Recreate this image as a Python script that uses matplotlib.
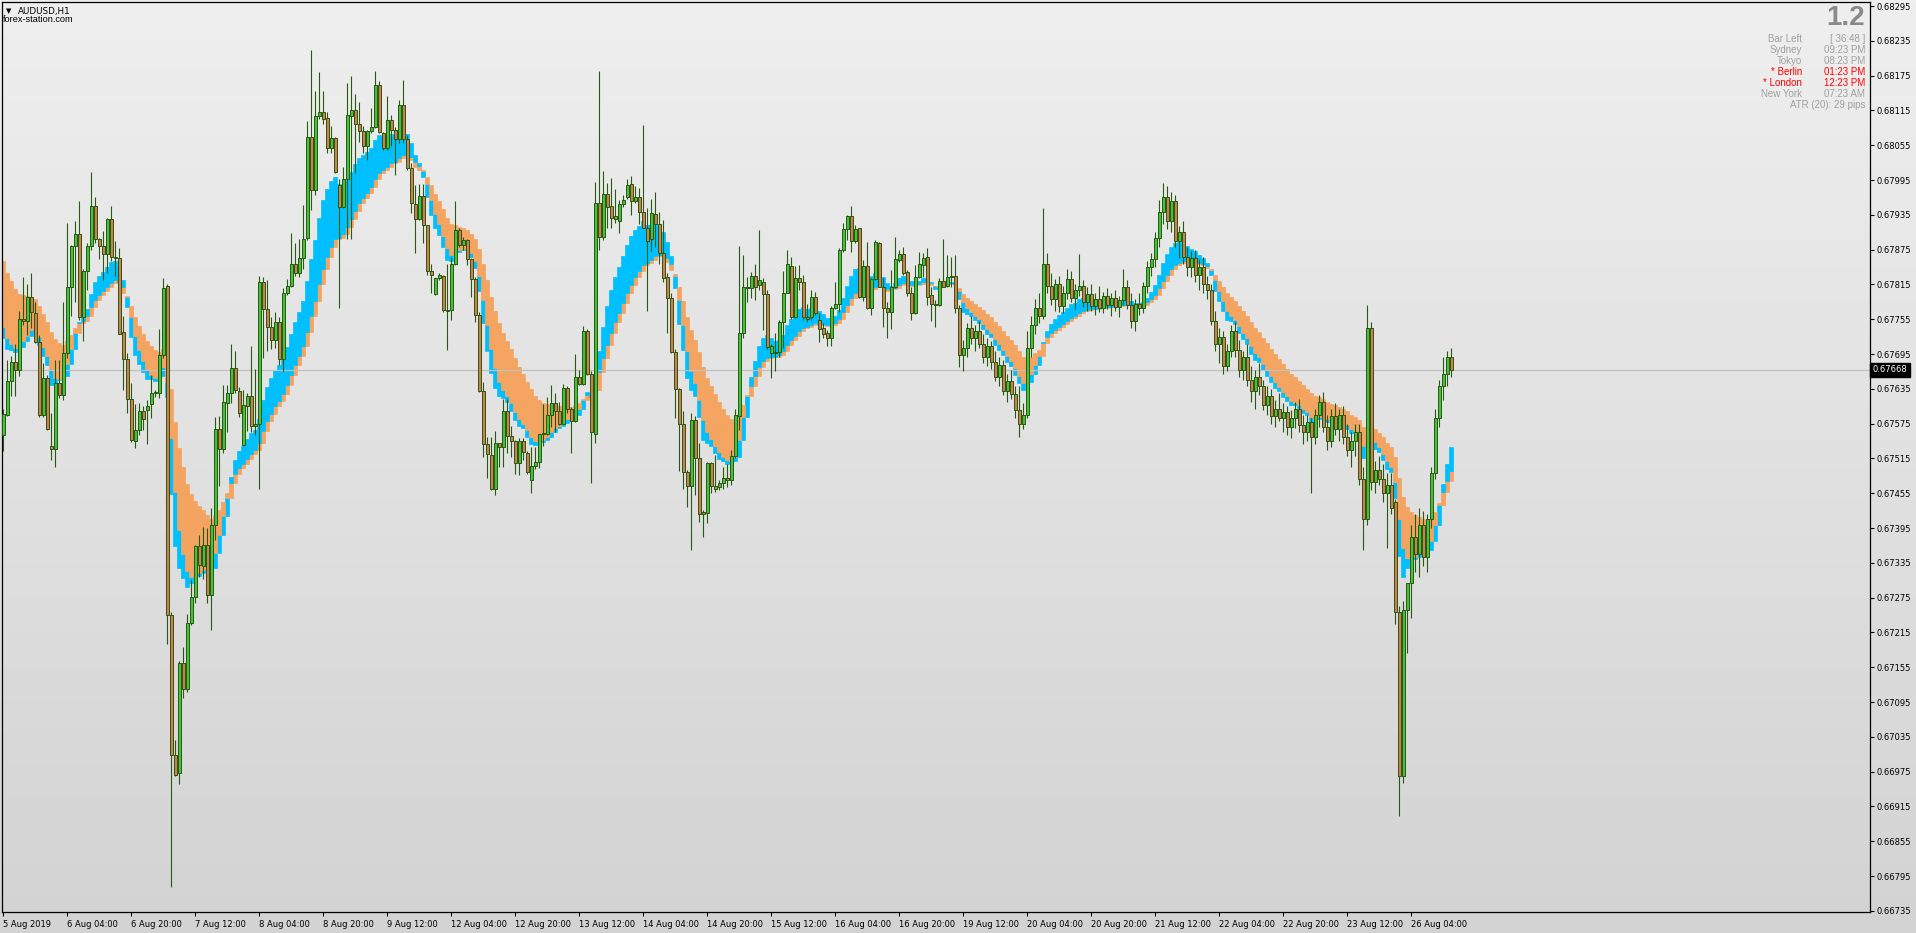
import numpy as np
import matplotlib
matplotlib.use("Agg")
import matplotlib.pyplot as plt
from matplotlib.colors import LinearSegmentedColormap

# AUDUSD H1 candles, prices in points (1 point = 0.00001)
opens = [67556, 67590, 67649, 67682, 67668, 67756, 67752, 67794, 67765, 67715,
         67590, 67654, 67536, 67532, 67645, 67625, 67696, 67810, 67881, 67902,
         67759, 67838, 67881, 67950, 67893, 67881, 67868, 67928, 67863, 67860,
         67733, 67686, 67617, 67545, 67564, 67597, 67599, 67609, 67627, 67627,
         67693, 67812, 67245, 67003, 66972, 67163, 67117, 67231, 67277, 67364,
         67330, 67366, 67279, 67401, 67566, 67532, 67611, 67627, 67671, 67631,
         67538, 67606, 67623, 67571, 67574, 67819, 67772, 67741, 67719, 67751,
         67687, 67800, 67813, 67850, 67834, 67860, 67895, 68069, 67977, 68106,
         68112, 68102, 68050, 68067, 67986, 67948, 67996, 68106, 68116, 68091,
         68080, 68054, 68080, 68086, 68159, 68076, 68051, 68098, 68082, 68065,
         68124, 68065, 68015, 67953, 67927, 67967, 67917, 67838, 67798, 67826,
         67830, 67771, 67771, 67850, 67909, 67883, 67891, 67858, 67825, 67762,
         67632, 67540, 67521, 67462, 67541, 67534, 67596, 67554, 67545, 67507,
         67545, 67524, 67478, 67502, 67509, 67557, 67558, 67590, 67610, 67596,
         67575, 67636, 67601, 67580, 67655, 67644, 67735, 67660, 67558, 67956,
         67897, 67971, 67950, 67933, 67925, 67954, 67966, 67989, 67958, 67966,
         67940, 67912, 67893, 67936, 67920, 67870, 67827, 67791, 67699, 67634,
         67574, 67492, 67468, 67581, 67515, 67423, 67421, 67507, 67468, 67465,
         67473, 67482, 67478, 67520, 67588, 67731, 67811, 67808, 67830, 67814,
         67820, 67798, 67696, 67697, 67698, 67751, 67801, 67847, 67759, 67826,
         67820, 67758, 67758, 67793, 67754, 67740, 67732, 67722, 67774, 67782,
         67874, 67910, 67933, 67890, 67912, 67794, 67847, 67774, 67824, 67886,
         67811, 67774, 67768, 67811, 67857, 67867, 67837, 67801, 67765, 67827,
         67849, 67862, 67797, 67781, 67780, 67821, 67812, 67828, 67829, 67775,
         67693, 67705, 67740, 67722, 67735, 67712, 67690, 67708, 67682, 67655,
         67676, 67632, 67648, 67626, 67598, 67575, 67590, 67705, 67745, 67775,
         67760, 67850, 67812, 67790, 67815, 67778, 67800, 67825, 67792, 67805,
         67812, 67785, 67798, 67778, 67790, 67775, 67795, 67780, 67792, 67776,
         67788, 67810, 67780, 67752, 67782, 67775, 67812, 67845, 67858, 67895,
         67940, 67965, 67925, 67958, 67890, 67905, 67862, 67845, 67860, 67832,
         67845, 67815, 67805, 67752, 67712, 67725, 67675, 67700, 67735, 67702,
         67668, 67690, 67650, 67632, 67655, 67640, 67608, 67622, 67588, 67600,
         67585, 67595, 67570, 67585, 67600, 67572, 67560, 67578, 67552, 67590,
         67612, 67570, 67545, 67588, 67565, 67590, 67552, 67530, 67545, 67560,
         67480, 67410, 67740, 67475, 67495, 67480, 67455, 67470, 67440, 67250,
         66968, 67253, 67300, 67380, 67350, 67400, 67345, 67410, 67490, 67585,
         67640, 67660, 67690]
highs = [67600, 67684, 67692, 67712, 67769, 67828, 67816, 67834, 67785, 67727,
         67680, 67659, 67594, 67684, 67684, 67785, 67921, 67883, 67924, 67959,
         67842, 67887, 68009, 67966, 67895, 67907, 67930, 67951, 67890, 67877,
         67761, 67696, 67645, 67609, 67611, 67605, 67615, 67659, 67633, 67738,
         67826, 67816, 67251, 67029, 67166, 67190, 67247, 67305, 67366, 67383,
         67397, 67395, 67430, 67586, 67588, 67642, 67641, 67712, 67700, 67639,
         67633, 67627, 67708, 67669, 67830, 67828, 67823, 67759, 67768, 67759,
         67808, 67824, 67904, 67886, 67894, 67952, 68097, 68219, 68148, 68181,
         68148, 68113, 68088, 68070, 67996, 68018, 68162, 68174, 68144, 68130,
         68088, 68082, 68119, 68183, 68166, 68078, 68139, 68107, 68086, 68133,
         68167, 68073, 68024, 67986, 67989, 67989, 67917, 67851, 67826, 67835,
         67831, 67851, 67862, 67959, 67912, 67897, 67894, 67860, 67827, 67768,
         67646, 67552, 67552, 67563, 67542, 67617, 67617, 67571, 67547, 67551,
         67550, 67527, 67535, 67535, 67558, 67609, 67621, 67642, 67627, 67613,
         67644, 67640, 67604, 67695, 67667, 67743, 67739, 67665, 67992, 68183,
         68010, 67990, 67999, 67979, 67960, 67969, 67996, 68002, 67985, 67981,
         68090, 67946, 67962, 67974, 67940, 67926, 67835, 67800, 67704, 67636,
         67596, 67495, 67593, 67588, 67541, 67426, 67509, 67509, 67521, 67477,
         67500, 67505, 67530, 67601, 67881, 67866, 67827, 67837, 67851, 67908,
         67826, 67805, 67713, 67731, 67754, 67838, 67874, 67863, 67847, 67848,
         67831, 67782, 67805, 67802, 67765, 67749, 67736, 67777, 67820, 67877,
         67921, 67935, 67950, 67917, 67913, 67857, 67889, 67826, 67892, 67889,
         67826, 67785, 67840, 67897, 67874, 67880, 67840, 67811, 67848, 67871,
         67869, 67877, 67811, 67788, 67826, 67893, 67866, 67863, 67866, 67780,
         67720, 67748, 67760, 67745, 67752, 67730, 67722, 67718, 67700, 67690,
         67684, 67660, 67668, 67640, 67640, 67610, 67735, 67760, 67790, 67800,
         67947, 67870, 67835, 67825, 67830, 67812, 67842, 67838, 67815, 67868,
         67822, 67810, 67815, 67800, 67812, 67802, 67808, 67800, 67805, 67795,
         67842, 67822, 67800, 67790, 67800, 67820, 67855, 67870, 67905, 67960,
         67990, 67985, 67975, 67970, 67915, 67925, 67880, 67872, 67875, 67858,
         67862, 67830, 67815, 67770, 67740, 67735, 67712, 67745, 67750, 67720,
         67700, 67712, 67675, 67668, 67680, 67650, 67640, 67635, 67615, 67628,
         67610, 67605, 67598, 67612, 67618, 67590, 67590, 67585, 67600, 67625,
         67630, 67590, 67600, 67610, 67600, 67605, 67575, 67560, 67575, 67575,
         67500, 67779, 67750, 67510, 67520, 67505, 67490, 67490, 67445, 67260,
         67270, 67300, 67400, 67420, 67430, 67425, 67420, 67500, 67600, 67650,
         67690, 67700, 67705]
lows = [67527, 67589, 67623, 67623, 67658, 67745, 67727, 67740, 67714, 67586,
        67586, 67564, 67513, 67501, 67619, 67616, 67688, 67761, 67785, 67753,
        67718, 67806, 67875, 67887, 67859, 67822, 67834, 67855, 67830, 67729,
        67633, 67593, 67543, 67533, 67555, 67564, 67540, 67585, 67621, 67619,
        67688, 67195, 66777, 66968, 66954, 67102, 67112, 67228, 67265, 67310,
        67307, 67266, 67220, 67375, 67468, 67525, 67560, 67611, 67627, 67587,
        67536, 67563, 67561, 67555, 67463, 67688, 67701, 67703, 67705, 67676,
        67666, 67797, 67811, 67830, 67828, 67841, 67892, 67944, 67969, 68100,
        68091, 68041, 68041, 68007, 67775, 67946, 67894, 67893, 68007, 68061,
        68041, 68030, 68076, 68084, 68076, 68047, 68047, 68053, 68004, 68058,
        68058, 68012, 67938, 67869, 67926, 67887, 67831, 67801, 67797, 67822,
        67768, 67702, 67754, 67848, 67880, 67874, 67848, 67794, 67751, 67630,
        67517, 67481, 67460, 67452, 67501, 67500, 67524, 67518, 67489, 67486,
        67513, 67489, 67455, 67496, 67498, 67537, 67556, 67570, 67561, 67573,
        67574, 67593, 67524, 67577, 67642, 67642, 67659, 67473, 67542, 67874,
        67892, 67912, 67913, 67921, 67904, 67949, 67963, 67935, 67955, 67920,
        67912, 67770, 67873, 67880, 67851, 67820, 67731, 67696, 67584, 67494,
        67463, 67432, 67358, 67452, 67406, 67379, 67403, 67455, 67458, 67460,
        67462, 67465, 67470, 67515, 67564, 67722, 67785, 67791, 67789, 67805,
        67736, 67703, 67653, 67665, 67690, 67705, 67800, 67755, 67757, 67805,
        67754, 67751, 67754, 67762, 67716, 67722, 67709, 67708, 67773, 67768,
        67871, 67892, 67871, 67886, 67791, 67786, 67773, 67762, 67822, 67810,
        67742, 67722, 67738, 67808, 67854, 67831, 67795, 67754, 67764, 67826,
        67828, 67780, 67752, 67741, 67777, 67810, 67811, 67811, 67765, 67673,
        67665, 67690, 67712, 67700, 67705, 67680, 67675, 67670, 67648, 67640,
        67625, 67612, 67618, 67585, 67552, 67565, 67585, 67690, 67730, 67748,
        67755, 67800, 67780, 67770, 67768, 67765, 67790, 67785, 67772, 67795,
        67776, 67770, 67770, 67762, 67768, 67765, 67772, 67760, 67770, 67758,
        67780, 67772, 67740, 67735, 67762, 67765, 67800, 67830, 67845, 67880,
        67920, 67910, 67905, 67880, 67860, 67850, 67830, 67828, 67820, 67805,
        67800, 67790, 67745, 67700, 67680, 67660, 67665, 67690, 67690, 67655,
        67650, 67640, 67612, 67600, 67625, 67598, 67590, 67575, 67570, 67580,
        67560, 67555, 67550, 67568, 67560, 67540, 67545, 67455, 67540, 67570,
        67560, 67530, 67535, 67555, 67545, 67540, 67520, 67500, 67520, 67470,
        67358, 67400, 67460, 67455, 67470, 67440, 67360, 67420, 67230, 66899,
        66955, 67180, 67240, 67320, 67310, 67330, 67320, 67395, 67480, 67570,
        67615, 67640, 67655]
closes = [67592, 67649, 67682, 67667, 67756, 67752, 67794, 67767, 67715, 67590,
          67654, 67566, 67532, 67645, 67625, 67696, 67810, 67881, 67902, 67759,
          67838, 67881, 67950, 67893, 67881, 67868, 67928, 67863, 67860, 67730,
          67686, 67617, 67547, 67564, 67597, 67583, 67605, 67628, 67629, 67693,
          67809, 67245, 67003, 66970, 67163, 67117, 67231, 67277, 67364, 67331,
          67366, 67279, 67401, 67566, 67532, 67612, 67627, 67671, 67633, 67594,
          67607, 67623, 67571, 67574, 67819, 67772, 67741, 67719, 67751, 67686,
          67800, 67813, 67850, 67834, 67860, 67894, 68069, 67977, 68106, 68112,
          68100, 68050, 68067, 68009, 67948, 67996, 68107, 68116, 68091, 68080,
          68054, 68080, 68086, 68159, 68077, 68051, 68098, 68082, 68065, 68124,
          68065, 68015, 67955, 67927, 67967, 67917, 67838, 67831, 67826, 67831,
          67771, 67769, 67850, 67909, 67883, 67891, 67858, 67824, 67763, 67632,
          67540, 67522, 67462, 67541, 67534, 67596, 67554, 67545, 67508, 67545,
          67526, 67491, 67502, 67509, 67557, 67558, 67590, 67610, 67596, 67575,
          67636, 67601, 67580, 67655, 67644, 67735, 67660, 67560, 67956, 67897,
          67971, 67949, 67930, 67927, 67954, 67960, 67986, 67958, 67966, 67940,
          67913, 67890, 67938, 67920, 67870, 67826, 67791, 67699, 67634, 67574,
          67492, 67468, 67581, 67515, 67420, 67419, 67507, 67468, 67463, 67473,
          67482, 67478, 67520, 67590, 67731, 67811, 67808, 67830, 67811, 67823,
          67798, 67707, 67709, 67699, 67751, 67801, 67850, 67759, 67826, 67820,
          67758, 67756, 67793, 67766, 67738, 67729, 67722, 67774, 67782, 67874,
          67910, 67933, 67890, 67910, 67793, 67847, 67774, 67824, 67888, 67811,
          67774, 67768, 67811, 67858, 67867, 67835, 67801, 67766, 67827, 67850,
          67861, 67794, 67781, 67779, 67821, 67811, 67828, 67829, 67775, 67693,
          67705, 67740, 67722, 67735, 67712, 67690, 67708, 67682, 67655, 67676,
          67632, 67648, 67626, 67598, 67575, 67590, 67705, 67745, 67775, 67760,
          67850, 67812, 67790, 67815, 67778, 67800, 67825, 67792, 67805, 67812,
          67785, 67798, 67778, 67790, 67775, 67795, 67780, 67792, 67776, 67788,
          67810, 67780, 67752, 67782, 67775, 67812, 67845, 67858, 67895, 67940,
          67965, 67925, 67958, 67890, 67905, 67862, 67845, 67860, 67832, 67845,
          67815, 67805, 67752, 67712, 67725, 67675, 67700, 67735, 67702, 67668,
          67690, 67650, 67632, 67655, 67640, 67608, 67622, 67588, 67600, 67585,
          67595, 67570, 67585, 67600, 67572, 67560, 67578, 67552, 67590, 67612,
          67570, 67545, 67588, 67565, 67590, 67552, 67530, 67545, 67560, 67480,
          67410, 67740, 67475, 67495, 67480, 67455, 67470, 67430, 67250, 66968,
          67253, 67300, 67380, 67350, 67400, 67345, 67410, 67490, 67585, 67640,
          67660, 67690, 67668]

# ribbon state (fast / slow smoothed price) read at the first bar
ribbon_seed = [67741, 67855]

time_labels = ["5 Aug 2019", "6 Aug 04:00", "6 Aug 20:00", "7 Aug 12:00", "8 Aug 04:00",
               "8 Aug 20:00", "9 Aug 12:00", "12 Aug 04:00", "12 Aug 20:00", "13 Aug 12:00",
               "14 Aug 04:00", "14 Aug 20:00", "15 Aug 12:00", "16 Aug 04:00", "16 Aug 20:00",
               "19 Aug 12:00", "20 Aug 04:00", "20 Aug 20:00", "21 Aug 12:00", "22 Aug 04:00",
               "22 Aug 20:00", "23 Aug 12:00", "26 Aug 04:00"]
price_ticks = [66735, 66795, 66855, 66915, 66975, 67035, 67095, 67155, 67215, 67275,
               67335, 67395, 67455, 67515, 67575, 67635, 67695, 67755, 67815, 67875,
               67935, 67995, 68055, 68115, 68175, 68235, 68295]
bid = 67668

info_names = ["Bar Left", "Sydney", "Tokyo", "* Berlin", "* London", "New York"]
info_values = ["[ 36:48 ]", "09:23 PM", "08:23 PM", "01:23 PM", "12:23 PM", "07:23 AM"]
info_open = [False, False, False, True, True, False]
atr_text = "ATR (20): 29 pips"
spread_text = "1.2"

# ---------------------------------------------------------------------------
P = 1e-5
o = np.array(opens) * P
h = np.array(highs) * P
l = np.array(lows) * P
c = np.array(closes) * P
n = len(c)
x = np.arange(n)

W, H = 1916, 933
fig = plt.figure(figsize=(W / 100, H / 100), dpi=100)

bg = fig.add_axes([0, 0, 1, 1], zorder=-5)
grad = LinearSegmentedColormap.from_list("mt4", ["#efefef", "#d3d3d3"])
bg.imshow(np.linspace(0, 1, 256).reshape(-1, 1), cmap=grad, aspect="auto",
          extent=[0, 1, 0, 1])
bg.axis("off")

left_px, right_px, top_px, bot_px = 2, 1870, 2, 912
ax = fig.add_axes([left_px / W, 1 - bot_px / H, (right_px - left_px) / W,
                   (bot_px - top_px) / H])
ax.patch.set_alpha(0)

ax.set_xlim(-0.33, 466.7)
ax.set_ylim(0.667331, 0.683019)

# ribbon: fast / slow smoothing of the bar mean price
mean_price = (o + h + l + c) / 4
fast = np.empty(n)
slow = np.empty(n)
fast[0], slow[0] = ribbon_seed[0] * P, ribbon_seed[1] * P
for i in range(1, n):
    fast[i] = fast[i - 1] + (mean_price[i] - fast[i - 1]) / 6
    slow[i] = slow[i - 1] + (mean_price[i] - slow[i - 1]) * 2 / 23
top = np.maximum(fast, slow)
bottom = np.minimum(fast, slow)
rising = fast > slow
strip = np.abs(np.diff(bottom, prepend=bottom[0]))
strip[0] = strip[1]

ORANGE, BLUE = "#f4a460", "#00bfff"
band_col = np.where(rising, BLUE, ORANGE)
strip_col = np.where(rising, ORANGE, BLUE)
ax.bar(x, strip, bottom=bottom - strip, width=1.0, color=strip_col,
       edgecolor=strip_col, linewidth=0.5, zorder=1)
ax.bar(x, top - bottom, bottom=bottom, width=1.0, color=band_col,
       edgecolor=band_col, linewidth=0.5, zorder=1.5)

# bid line
ax.axhline(bid * P, color="#c0c0c0", lw=0.9, zorder=2)

# candles
EDGE = "#255a10"
ax.vlines(x, l, h, color=EDGE, lw=0.8, zorder=3)
up = c >= o
body_lo = np.minimum(o, c)
body_h = np.maximum(np.abs(c - o), 1.2 * P)
ax.bar(x[up], body_h[up], bottom=body_lo[up], width=0.72, color="#44c23c",
       edgecolor=EDGE, linewidth=0.7, zorder=4)
ax.bar(x[~up], body_h[~up], bottom=body_lo[~up], width=0.72, color="#d97950",
       edgecolor=EDGE, linewidth=0.7, zorder=4)

# axes styling
for s in ax.spines.values():
    s.set_color("black")
    s.set_linewidth(0.9)
ax.yaxis.tick_right()
ax.set_yticks(np.array(price_ticks) * P)
ax.set_yticklabels([f"{v * P:.5f}" for v in price_ticks])
ax.set_xticks(np.arange(len(time_labels)) * 16)
ax.set_xticklabels(time_labels)
for t in ax.get_xticklabels():
    t.set_horizontalalignment("left")
ax.tick_params(axis="y", direction="out", length=3, width=0.8, pad=2,
               labelsize=6, colors="black")
ax.tick_params(axis="x", direction="out", length=3, width=0.8, pad=3,
               labelsize=6, colors="black")

# bid price tag
ax.text(1.0015, bid * P, f"{bid * P:.5f}", transform=ax.get_yaxis_transform(),
        ha="left", va="center", fontsize=6, color="white", zorder=6,
        bbox=dict(boxstyle="square,pad=0.3", fc="black", ec="black"))

# header
fig.text(6 / W, 1 - 11.5 / H, "\u25bc", fontsize=5, ha="left", va="center", color="black")
fig.text(18 / W, 1 - 11.5 / H, "AUDUSD,H1", fontsize=6.3, ha="left", va="center",
         color="black")
fig.text(3 / W, 1 - 19.5 / H, "forex-station.com", fontsize=6.6, ha="left",
         va="center", color="black", family="Liberation Sans")

# info panel
fig.text(1865 / W, 1 - 18 / H, spread_text, fontsize=20, fontweight="bold",
         family="Liberation Sans", color="#8a8a8a", ha="right", va="center")
for k, (name, val, hot) in enumerate(zip(info_names, info_values, info_open)):
    yy = 1 - (38.7 + 10.97 * k) / H
    col = "#ff0000" if hot else "#a0a0a0"
    fig.text(1802 / W, yy, name, fontsize=7, family="Liberation Sans", color=col,
             ha="right", va="center")
    fig.text(1865 / W, yy, val, fontsize=7, family="Liberation Sans", color=col,
             ha="right", va="center")
fig.text(1865 / W, 1 - 105 / H, atr_text, fontsize=7, family="Liberation Sans",
         color="#a0a0a0", ha="right", va="center")

fig.savefig("out.png", dpi=100)
